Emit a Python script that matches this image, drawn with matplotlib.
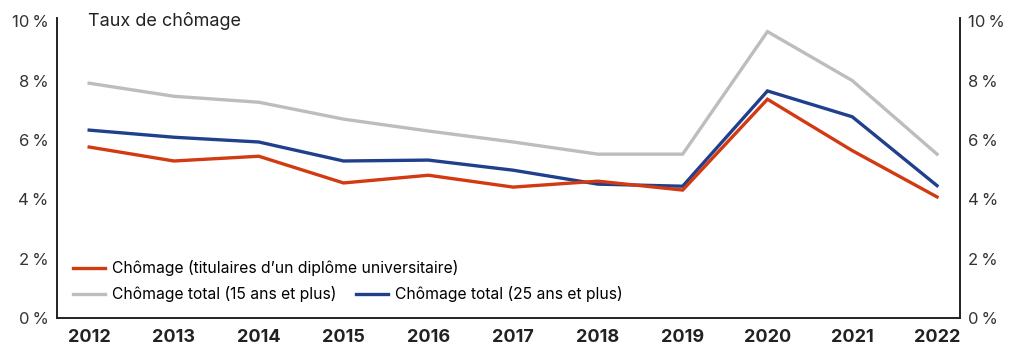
import matplotlib
matplotlib.use("Agg")
import matplotlib.pyplot as plt

plt.rcParams['font.family'] = ['Inter', 'DejaVu Sans']

# Données : taux de chômage (%)
annees = [2012, 2013, 2014, 2015, 2016, 2017, 2018, 2019, 2020, 2021, 2022]
chomage_diplomes = [5.76, 5.29, 5.45, 4.55, 4.81, 4.41, 4.61, 4.31, 7.37, 5.64, 4.08]
chomage_15_plus = [7.91, 7.47, 7.27, 6.70, 6.30, 5.93, 5.52, 5.52, 9.65, 8.00, 5.52]
chomage_25_plus = [6.33, 6.09, 5.93, 5.29, 5.32, 4.98, 4.51, 4.44, 7.65, 6.78, 4.46]
etiquettes_y = ['0\u202f%', '2\u202f%', '4\u202f%', '6\u202f%', '8\u202f%', '10\u202f%']

rouge = '#D23A12'
gris = '#BDBDBD'
bleu = '#203F8C'

fig = plt.figure(figsize=(10.10, 3.49), dpi=100)
ax = fig.add_axes([0.0564, 0.0888, 0.894, 0.859])

l_gris, = ax.plot(annees, chomage_15_plus, color=gris, lw=2.4, solid_joinstyle='miter')
l_bleu, = ax.plot(annees, chomage_25_plus, color=bleu, lw=2.4, solid_joinstyle='miter')
l_rouge, = ax.plot(annees, chomage_diplomes, color=rouge, lw=2.4, solid_joinstyle='miter')

ax.set_xlim(2011.62, 2022.27)
ax.set_ylim(0, 10.1)
ax.set_xticks(annees)
ax.set_xticklabels([str(a) for a in annees], fontsize=13, fontweight='bold', color='#222222')
ax.set_yticks([0, 2, 4, 6, 8, 10])
ax.set_yticklabels(etiquettes_y, fontsize=12, color='#333333')
ax.tick_params(axis='both', length=0)
ax.tick_params(axis='x', pad=8)
ax.tick_params(axis='y', pad=6)

# axe de droite identique
ax2 = ax.twinx()
ax2.set_ylim(ax.get_ylim())
ax2.set_yticks([0, 2, 4, 6, 8, 10])
ax2.set_yticklabels(etiquettes_y, fontsize=12, color='#333333')
ax2.tick_params(axis='y', length=0, pad=6)

for a in (ax, ax2):
    a.spines['top'].set_visible(False)
    for s in ('left', 'right', 'bottom'):
        a.spines[s].set_color('#222222')
        a.spines[s].set_linewidth(1.2)

ax.text(0.034, 1.02, 'Taux de chômage', transform=ax.transAxes,
        fontsize=13, color='#222222', va='top', ha='left')

# légendes sur deux lignes
leg1 = ax.legend([l_rouge], ['Chômage (titulaires d\u2019un diplôme universitaire)'],
                 loc='upper left', bbox_to_anchor=(0.004, 0.235), frameon=False,
                 fontsize=11.3, handlelength=2.0, handletextpad=0.45, borderpad=0.3)
ax.add_artist(leg1)
ax.legend([l_gris, l_bleu], ['Chômage total (15 ans et plus)', 'Chômage total (25 ans et plus)'],
          loc='upper left', bbox_to_anchor=(0.004, 0.148), frameon=False, ncol=2,
          fontsize=11.3, handlelength=2.0, handletextpad=0.45, columnspacing=1.3, borderpad=0.3)

fig.savefig('out.png', dpi=100)
